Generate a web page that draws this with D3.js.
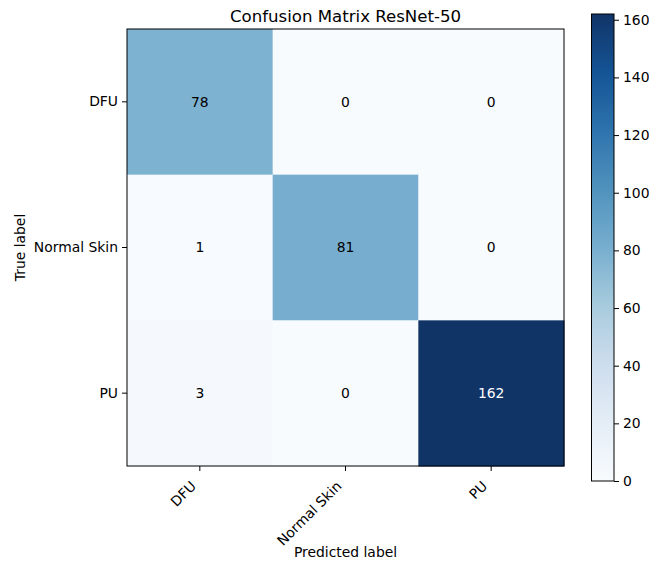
<!DOCTYPE html>
<html><head><meta charset="utf-8">
<script src="https://cdn.jsdelivr.net/npm/d3@7"></script>
<style>body{margin:0;background:#fff;} text{font-family:"DejaVu Sans",sans-serif;}</style>
</head><body><svg id="c" width="649" height="563"></svg>
<script>
const classes = ["DFU", "Normal Skin", "PU"];
const matrix = [
  [78, 0, 0],
  [1, 81, 0],
  [3, 0, 162]
];
const cbTicks = [0, 20, 40, 60, 80, 100, 120, 140, 160];
const title = "Confusion Matrix ResNet-50";

const svg = d3.select("#c");
const L = 127, T = 29, S = 437;
const FS = 13.9;
const x = d3.scaleBand().domain(classes).range([L, L + S]);
const y = d3.scaleBand().domain(classes).range([T, T + S]);
const vmax = d3.max(matrix.flat());
const bluesRaw = ["#f7fbff","#deebf7","#c6dbef","#9ecae1","#6baed6","#4292c6","#2171b5","#08519c","#08306b"];
const blues = bluesRaw.map(c => { const h = d3.hsl(c); h.s *= 0.84; h.l = Math.min(0.985, h.l + 0.01); return h.formatHex(); });
const color = d3.scaleLinear().domain(blues.map((d,i)=>i/(blues.length-1)*vmax)).range(blues).clamp(true);

const cells = [];
matrix.forEach((row,i)=>row.forEach((v,j)=>cells.push({r:classes[i],c:classes[j],v})));
svg.selectAll("rect.cell").data(cells).enter().append("rect")
  .attr("x",d=>x(d.c)).attr("y",d=>y(d.r)).attr("width",x.bandwidth()+0.5).attr("height",y.bandwidth()+0.5)
  .attr("fill",d=>color(d.v));
svg.selectAll("text.val").data(cells).enter().append("text")
  .attr("x",d=>x(d.c)+x.bandwidth()/2).attr("y",d=>y(d.r)+y.bandwidth()/2)
  .attr("text-anchor","middle").attr("dy","0.35em").attr("font-size",FS)
  .attr("fill",d=>d.v > vmax/2 ? "#fff" : "#000").text(d=>d.v);
svg.append("rect").attr("x",L).attr("y",T).attr("width",S).attr("height",S)
  .attr("fill","none").attr("stroke","#000").attr("stroke-width",1);

// y axis
const ya = svg.append("g").attr("transform",`translate(${L},0)`)
  .call(d3.axisLeft(y).tickSize(5).tickPadding(4));
ya.select(".domain").remove();
ya.selectAll("text").attr("font-size",FS).attr("font-family","DejaVu Sans");
// x axis
const xa = svg.append("g").attr("transform",`translate(0,${T+S})`)
  .call(d3.axisBottom(x).tickSize(5));
xa.select(".domain").remove();
xa.selectAll("text").attr("font-size",FS).attr("font-family","DejaVu Sans")
  .attr("text-anchor","end").attr("dy",null).attr("y",null)
  .attr("transform","translate(-3,21) rotate(-45)");

svg.append("text").attr("x",L+S/2).attr("y",22).attr("text-anchor","middle").attr("font-size",16.6).text(title);
svg.append("text").attr("x",L+S/2).attr("y",557).attr("text-anchor","middle").attr("font-size",FS).text("Predicted label");
svg.append("text").attr("transform",`translate(25,${T+S/2}) rotate(-90)`).attr("text-anchor","middle").attr("font-size",FS).text("True label");

// colorbar
const cbX = 591.5, cbW = 22.5, cbT = 14, cbB = 481;
const cy = d3.scaleLinear().domain([0, vmax]).range([cbB, cbT]);
const defs = svg.append("defs");
const grad = defs.append("linearGradient").attr("id","g").attr("x1",0).attr("y1",1).attr("x2",0).attr("y2",0);
blues.forEach((c,i)=>grad.append("stop").attr("offset",i/(blues.length-1)).attr("stop-color",c));
svg.append("rect").attr("x",cbX).attr("y",cbT).attr("width",cbW).attr("height",cbB-cbT).attr("fill","url(#g)").attr("stroke","#000").attr("stroke-width",1);
const ca = svg.append("g").attr("transform",`translate(${cbX+cbW},0)`)
  .call(d3.axisRight(cy).tickValues(cbTicks).tickSize(5).tickPadding(4));
ca.select(".domain").remove();
ca.selectAll("text").attr("font-size",FS).attr("font-family","DejaVu Sans");
</script></body></html>
